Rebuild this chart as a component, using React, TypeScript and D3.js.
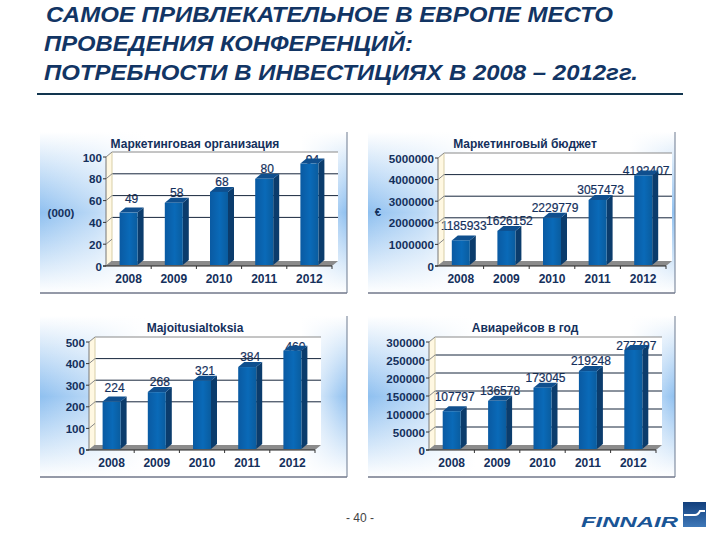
import React from "react";
import * as d3 from "d3";

const years = ["2008", "2009", "2010", "2011", "2012"];
const orgValues = [49, 58, 68, 80, 94];
const budgetValues = [1185933, 1626152, 2229779, 3057473, 4192407];
const lodgingValues = [224, 268, 321, 384, 460];
const flightValues = [107797, 136578, 173045, 219248, 277797];
const titleLines = [
  "САМОЕ ПРИВЛЕКАТЕЛЬНОЕ В ЕВРОПЕ МЕСТО",
  "ПРОВЕДЕНИЯ КОНФЕРЕНЦИЙ:",
  "ПОТРЕБНОСТИ В ИНВЕСТИЦИЯХ В 2008 – 2012гг.",
];

const titleLayout = [
  { x: 46, y: 22, w: 567 },
  { x: 44, y: 51, w: 369 },
  { x: 44, y: 80, w: 594 },
];

const FONT = "'Liberation Sans', Arial, sans-serif";
const NAVY = "#14305c";
const DEPTH_X = 6;
const DEPTH_Y = 5;
// Vertical label offset over each year's bar, as seen in the picture
const labelShift = [-9, -5, -5, -5, 1];

type PanelProps = {
  id: string;
  frame: [number, number, number, number];
  axisX: number;
  rightX: number;
  y0: number;
  yTop: number;
  max: number;
  tickStep: number;
  gridFrom: number;
  values: number[];
  title: string;
  titleX: number;
  titleY: number;
  unit?: string;
  unitX?: number;
  unitY?: number;
  labelDx: number;
};

const panels: PanelProps[] = [
  { id: "p1", frame: [40, 132, 347, 293], axisX: 106, rightX: 332, y0: 266, yTop: 157, max: 100, tickStep: 20, gridFrom: 40, values: orgValues, title: "Маркетинговая организация", titleX: 195, titleY: 144, unit: "(000)", unitX: 61, unitY: 213, labelDx: 3 },
  { id: "p2", frame: [368, 132, 675, 293], axisX: 438, rightX: 666, y0: 266, yTop: 158, max: 5000000, tickStep: 1000000, gridFrom: 2000000, values: budgetValues, title: "Маркетинговый бюджет", titleX: 525, titleY: 144, unit: "€", unitX: 378, unitY: 212, labelDx: 3 },
  { id: "p3", frame: [40, 316, 347, 477], axisX: 89, rightX: 315, y0: 450, yTop: 342, max: 500, tickStep: 100, gridFrom: 200, values: lodgingValues, title: "Majoitusialtoksia", titleX: 195, titleY: 328, labelDx: 3 },
  { id: "p4", frame: [368, 316, 675, 477], axisX: 429, rightX: 656, y0: 450, yTop: 342, max: 300000, tickStep: 50000, gridFrom: 50000, values: flightValues, title: "Авиарейсов в год", titleX: 525, titleY: 328, labelDx: 3 },
];

function Panel(p: PanelProps) {
  const [fx0, fy0, fx1, fy1] = p.frame;
  const fw = fx1 - fx0;
  const fh = fy1 - fy0;
  const x = d3.scaleBand<string>().domain(years).range([p.axisX, p.rightX]).paddingInner(0.6).paddingOuter(0.3);
  const band = d3.scaleBand<string>().domain(years).range([p.axisX, p.rightX]);
  const y = d3.scaleLinear().domain([0, p.max]).range([p.y0, p.yTop]);
  const ticks = d3.range(0, p.max + p.tickStep / 2, p.tickStep);
  const bw = 18;
  const backL = p.axisX + DEPTH_X;
  const backR = p.rightX + DEPTH_X;
  const backTop = p.yTop - DEPTH_Y;
  const backBot = p.y0 - DEPTH_Y;
  return (
    <g fontFamily={FONT}>
      <rect x={fx0} y={fy0} width={fw} height={fh} fill={`url(#${p.id}v)`} />
      <rect x={fx0} y={fy0} width={fw} height={fh} fill="url(#mask)" />
      <line x1={fx0} x2={fx1} y1={fy1} y2={fy1} stroke="#2a3550" strokeWidth={1} />
      <line x1={fx1} x2={fx1} y1={fy0} y2={fy1} stroke="#6d7a90" strokeWidth={1} />
      <polygon points={`${p.axisX},${p.yTop} ${backL},${backTop} ${backL},${backBot} ${p.axisX},${p.y0}`} fill="#fff8e2" />
      <rect x={backL} y={backTop} width={backR - backL} height={backBot - backTop} fill="#ffffff" />
      {years.map((yr, i) => (
        <text key={yr} x={x(yr)! + x.bandwidth() / 2 + p.labelDx} y={y(p.values[i]) - DEPTH_Y + labelShift[i] + 4} textAnchor="middle" fontSize={12} fill={NAVY} stroke={NAVY} strokeWidth={0.2}>
          {p.values[i]}
        </text>
      ))}
      <line x1={backL} x2={backR} y1={backTop} y2={backTop} stroke="#8a8a8a" />
      {ticks.filter((t) => t >= p.gridFrom && t < p.max).map((t) => (
        <line key={t} x1={backL} x2={backR} y1={y(t) - DEPTH_Y} y2={y(t) - DEPTH_Y} stroke="#17263c" strokeWidth={1} />
      ))}
      <line x1={backL} x2={backL} y1={backTop} y2={backBot} stroke="#d8cfa8" />
      <polygon points={`${p.axisX},${p.y0} ${backL},${backBot} ${backR},${backBot} ${p.rightX},${p.y0}`} fill="#8b8b8b" />
      <line x1={p.axisX} x2={p.axisX} y1={p.yTop} y2={p.y0} stroke="#777" />
      {ticks.map((t) => (
        <g key={t}>
          <line x1={p.axisX - 3} x2={p.axisX} y1={y(t)} y2={y(t)} stroke="#333" />
          <line x1={p.axisX} x2={backL} y1={y(t)} y2={y(t) - DEPTH_Y} stroke="#888" />
          <text x={p.axisX - 4} y={y(t) + 4.5} textAnchor="end" fontSize={11.6} fontWeight="bold" fill={NAVY}>{t}</text>
        </g>
      ))}
      <line x1={p.axisX - 3} x2={p.rightX} y1={p.y0} y2={p.y0} stroke="#222" />
      {years.map((yr) => (
        <line key={yr} x1={band(yr)! + band.bandwidth()} x2={band(yr)! + band.bandwidth()} y1={p.y0} y2={p.y0 + 3} stroke="#333" />
      ))}
      {years.map((yr, i) => {
        const cx = x(yr)! + x.bandwidth() / 2;
        const l = cx - bw / 2;
        const r = cx + bw / 2;
        const t = y(p.values[i]);
        const b = p.y0 - 1;
        return (
          <g key={yr}>
            <polygon points={`${r},${t} ${r + DEPTH_X},${t - DEPTH_Y} ${r + DEPTH_X},${b - DEPTH_Y} ${r},${b}`} fill="#0b3c6c" />
            <polygon points={`${l},${t} ${l + DEPTH_X},${t - DEPTH_Y} ${r + DEPTH_X},${t - DEPTH_Y} ${r},${t}`} fill="#0f4f8e" />
            <rect x={l} y={t} width={bw} height={b - t} fill="url(#barFront)" />
            <text x={cx} y={p.y0 + 17} textAnchor="middle" fontSize={12} fontWeight="bold" fill={NAVY}>{yr}</text>
          </g>
        );
      })}
      <text x={p.titleX} y={p.titleY + 4} textAnchor="middle" fontSize={12} fontWeight="bold" fill={NAVY}>{p.title}</text>
      {p.unit && (
        <text x={p.unitX} y={p.unitY! + 4} textAnchor="middle" fontSize={11.5} fontWeight="bold" fill={NAVY}>{p.unit}</text>
      )}
    </g>
  );
}

export default function App() {
  return (
    <svg width={720} height={540} viewBox="0 0 720 540" style={{ position: "absolute", left: 0, top: 0, display: "block", background: "#fff" }}>
      <defs>
        {panels.map((p) => (
          <linearGradient key={p.id} id={`${p.id}v`} x1="0" y1="0" x2="0" y2="1">
            <stop offset="0" stopColor="#ffffff" />
            <stop offset="0.5" stopColor="#8fc0f0" />
            <stop offset="1" stopColor="#ffffff" />
          </linearGradient>
        ))}
        <linearGradient id="mask" x1="0" y1="0" x2="1" y2="0">
          <stop offset="0" stopColor="#fff" stopOpacity={0} />
          <stop offset="0.18" stopColor="#fff" stopOpacity={0.4} />
          <stop offset="0.35" stopColor="#fff" stopOpacity={1} />
          <stop offset="0.85" stopColor="#fff" stopOpacity={1} />
          <stop offset="1" stopColor="#fff" stopOpacity={0} />
        </linearGradient>
        <linearGradient id="barFront" x1="0" y1="0" x2="1" y2="0">
          <stop offset="0" stopColor="#0a5aa2" />
          <stop offset="0.55" stopColor="#0a6ab8" />
          <stop offset="1" stopColor="#0a5c9e" />
        </linearGradient>
        <linearGradient id="logoBox" x1="0" y1="0" x2="0" y2="1">
          <stop offset="0" stopColor="#123f7c" />
          <stop offset="1" stopColor="#3f78b8" />
        </linearGradient>
      </defs>
      <g fontFamily={FONT} fontSize={22} fontWeight="bold" fontStyle="italic" fill="#123564">
        {titleLines.map((line, i) => (
          <text key={line} x={titleLayout[i].x} y={titleLayout[i].y} textLength={titleLayout[i].w} lengthAdjust="spacingAndGlyphs">{line}</text>
        ))}
      </g>
      <rect x={37} y={93} width={646} height={2} fill="#12354f" />
      {panels.map((p) => <Panel key={p.id} {...p} />)}
      <text x={360} y={522} textAnchor="middle" fontFamily={FONT} fontSize={12} fill="#444">- 40 -</text>
      <text x={581} y={527} fontFamily={FONT} fontSize={15} fontWeight="bold" fontStyle="italic" fill="#1a5596" textLength={97} lengthAdjust="spacingAndGlyphs">FINNAIR</text>
      <rect x={683} y={502} width={23} height={25} fill="url(#logoBox)" />
      <path d="M684 515 L695 515 Q698 515 700 511 L705 511" fill="none" stroke="#fff" strokeWidth={2} />
    </svg>
  );
}
